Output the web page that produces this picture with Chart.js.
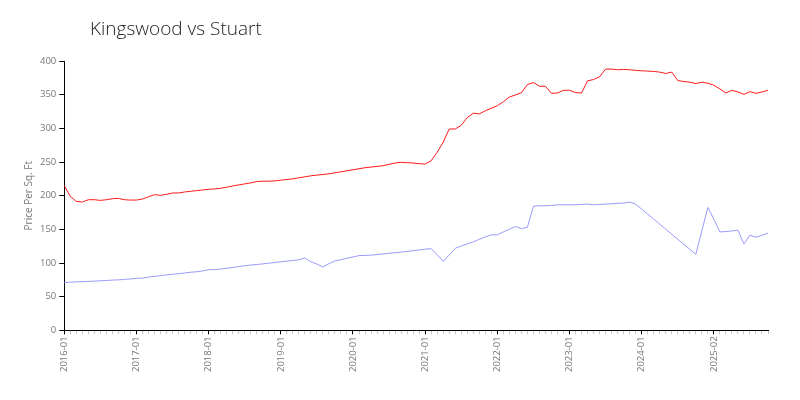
<!DOCTYPE html>
<html>
<head>
<meta charset="utf-8">
<script src="https://cdn.jsdelivr.net/npm/chart.js@4/dist/chart.umd.min.js"></script>
<style>
  body { margin: 0; background: #fff; }
  #wrap { position: relative; width: 800px; height: 400px; }
  #title { position: absolute; left: 90px; top: 15px; font-family: "Open Sans", sans-serif; font-weight: 300; font-size: 19px; color: #222; }
</style>
</head>
<body>
<div id="wrap">
  <div id="title">Kingswood vs Stuart</div>
  <canvas id="priceChart" width="800" height="400"></canvas>
</div>
<script>
// months (2025-01 is missing in the source data)
let months = [
    "2016-01","2016-02","2016-03","2016-04","2016-05","2016-06","2016-07","2016-08","2016-09","2016-10","2016-11","2016-12",
    "2017-01","2017-02","2017-03","2017-04","2017-05","2017-06","2017-07","2017-08","2017-09","2017-10","2017-11","2017-12",
    "2018-01","2018-02","2018-03","2018-04","2018-05","2018-06","2018-07","2018-08","2018-09","2018-10","2018-11","2018-12",
    "2019-01","2019-02","2019-03","2019-04","2019-05","2019-06","2019-07","2019-08","2019-09","2019-10","2019-11","2019-12",
    "2020-01","2020-02","2020-03","2020-04","2020-05","2020-06","2020-07","2020-08","2020-09","2020-10","2020-11","2020-12",
    "2021-01","2021-02","2021-03","2021-04","2021-05","2021-06","2021-07","2021-08","2021-09","2021-10","2021-11","2021-12",
    "2022-01","2022-02","2022-03","2022-04","2022-05","2022-06","2022-07","2022-08","2022-09","2022-10","2022-11","2022-12",
    "2023-01","2023-02","2023-03","2023-04","2023-05","2023-06","2023-07","2023-08","2023-09","2023-10","2023-11","2023-12",
    "2024-01","2024-02","2024-03","2024-04","2024-05","2024-06","2024-07","2024-08","2024-09","2024-10","2024-11","2024-12",
    "2025-02","2025-03","2025-04","2025-05","2025-06","2025-07","2025-08","2025-09","2025-10","2025-11"
];

let shownTicks = ["2016-01","2017-01","2018-01","2019-01","2020-01","2021-01","2022-01","2023-01","2024-01","2025-02"];

let kingswood = [
    215, 199, 191.5, 190.5, 194, 194, 193, 194, 195.5, 196, 194, 193.5,
    193.5, 195, 198.5, 201.5, 200.5, 202, 204, 204, 205.5, 206.5, 207.5, 208.5,
    209.5, 210, 211, 212.5, 214.5, 216, 217.5, 219, 221, 221.5, 221.5, 222,
    223, 224, 225, 226.5, 228, 229.5, 230.5, 231.5, 232.5, 234, 235.5, 237,
    238.5, 240, 241.5, 242.5, 243.5, 244.5, 246.5, 248.5, 249.5, 249, 248.5, 247.5,
    247, 252, 264.5, 279.5, 299, 299, 304.5, 316, 322.5, 321.5, 326, 330,
    333.5, 339.5, 346.5, 349.5, 353, 365, 368, 362.5, 362.5, 352, 352.5, 356.5,
    356.5, 353, 352.5, 370.5, 372.5, 376.5, 388, 388, 387, 387.5, 387, 386,
    385.5, 385, 384.5, 383.5, 381.5, 383.5, 371, 369.5, 368.5, 366.5, 368.5, 367,
    364, 358.5, 352.5, 356.5, 354, 350.5, 354.5, 352, 354, 356.5
];

let stuart = [
    71, 71.5, 72, 72.3, 72.7, 73.1, 73.6, 74.1, 74.6, 75, 75.6, 76.3,
    77.1, 77.5, 79, 80.2, 81.2, 82.3, 83.3, 84, 85.2, 86.3, 87, 88.2,
    90, 90.3, 91, 92.2, 93.3, 94.6, 95.9, 97, 97.8, 98.7, 99.7, 100.8,
    101.8, 102.8, 103.8, 104.8, 107.5, 102, 98.5, 94, 99, 103, 105, 107,
    109, 111, 111.3, 111.7, 112.5, 113.5, 114.5, 115.3, 116.3, 117.3, 118.3, 119.3,
    120.5, 121.4, 112.4, 102.5, 111.9, 121.9, 125.3, 128.3, 131.3, 135.3, 138.8, 141.8,
    141.8, 146.2, 150.2, 154.2, 151.2, 153.2, 184.5, 185, 185, 185.5, 186.5, 186.5,
    186.5, 186.5, 187, 187.5, 186.5, 187, 187.5, 188, 188.5, 189, 190.5, 187.5,
    null, null, null, null, null, null, null, null, null, 112.9, null, 182.5,
    165, 146.2, 146.7, 147.7, 148.7, 128.3, 141.3, 138.3, 141.3, 144.3
];

let tickFont = { family: "Open Sans", size: 9.5 };

document.addEventListener("DOMContentLoaded", function () {
    createChart();
});

function createChart() {
    var myChart = new Chart(document.getElementById('priceChart').getContext('2d'), {
        type: 'line',
        data: {
            labels: months,
            datasets: [{
                label: 'Kingswood',
                data: kingswood,
                borderColor: '#ff1a1a',
                borderWidth: 1,
                pointRadius: 0,
                tension: 0,
                spanGaps: true
            }, {
                label: 'Stuart',
                data: stuart,
                borderColor: '#9a9aff',
                borderWidth: 1,
                pointRadius: 0,
                tension: 0,
                spanGaps: true
            }]
        },
        options: {
            responsive: false,
            animation: false,
            layout: {
                padding: { top: 61, left: 21, right: 32, bottom: 26 }
            },
            plugins: {
                legend: { display: false },
                tooltip: { enabled: false }
            },
            scales: {
                y: {
                    min: 0,
                    max: 400,
                    ticks: {
                        stepSize: 50,
                        color: "#777",
                        font: tickFont,
                        padding: 3
                    },
                    grid: {
                        drawOnChartArea: false,
                        tickLength: 5,
                        tickColor: "#000"
                    },
                    border: { color: "#000", width: 1 },
                    title: {
                        display: true,
                        text: "Price Per Sq. Ft",
                        color: "#777",
                        font: { family: "Open Sans", size: 10 },
                        padding: 2
                    }
                },
                x: {
                    ticks: {
                        autoSkip: false,
                        maxRotation: 90,
                        minRotation: 90,
                        color: "#777",
                        font: tickFont,
                        padding: 2,
                        callback: function (value, index) {
                            var lbl = months[index];
                            return shownTicks.includes(lbl) ? lbl : '';
                        }
                    },
                    grid: {
                        drawOnChartArea: false,
                        tickLength: 4,
                        tickColor: function (ctx) {
                            return shownTicks.includes(months[ctx.index]) ? "#000" : "#c8c8c8";
                        }
                    },
                    border: { color: "#000", width: 1 }
                }
            }
        }
    });
}
</script>
</body>
</html>
